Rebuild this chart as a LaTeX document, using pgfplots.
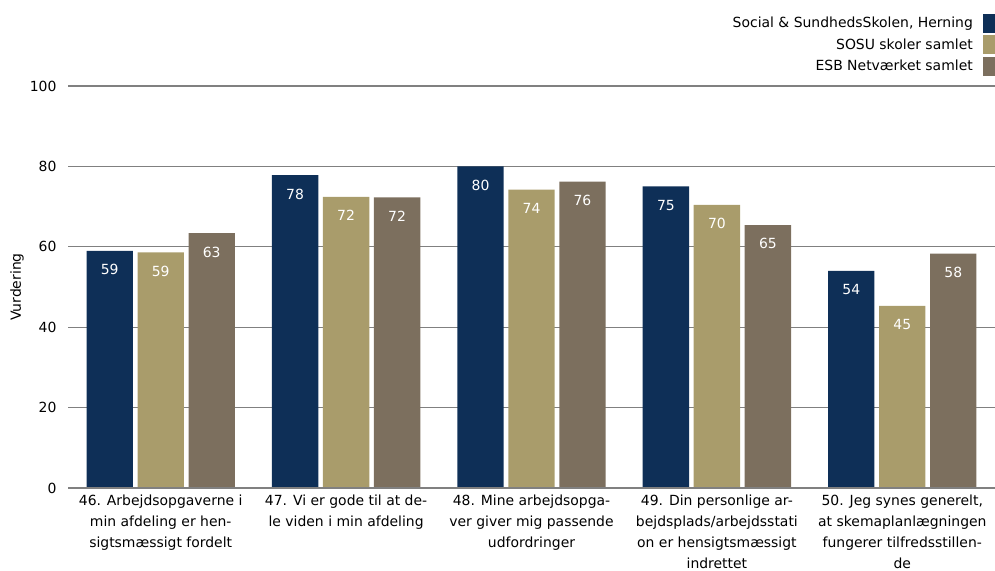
\documentclass[border=0pt]{standalone}
\usepackage{pgfplots}
\pgfplotsset{compat=1.18}
\usepackage{fontspec}
\setmainfont{DejaVu Sans}
\usetikzlibrary{calc}
\definecolor{cnavy}{HTML}{0E2F57}
\definecolor{ctan}{HTML}{A99C6B}
\definecolor{cbrown}{HTML}{7C6F5E}
\definecolor{cgrid}{HTML}{808080}
\begin{document}
\begin{tikzpicture}
\begin{axis}[
  scale only axis, width=927bp, height=402bp,
  ymin=0, ymax=100, xmin=-0.5, xmax=4.5,
  ytick={0,20,40,60,80,100},
  ymajorgrids, grid style={cgrid, line width=1.1bp},
  axis line style={draw=none},
  major tick length=0pt,
  xtick={0,1,2,3,4},
  xticklabels={
    {46. Arbejdsopgaverne i\\min afdeling er hen-\\sigtsmæssigt fordelt},
    {47. Vi er gode til at de-\\le viden i min afdeling},
    {48. Mine arbejdsopga-\\ver giver mig passende\\udfordringer},
    {49. Din personlige ar-\\bejdsplads/arbejdsstati\\on er hensigtsmæssigt\\indrettet},
    {50. Jeg synes generelt,\\at skemaplanlægningen\\fungerer tilfredsstillen-\\de}},
  xticklabel style={align=center, font=\fontsize{14}{21}\selectfont, anchor=north, yshift=-3.5bp},
  yticklabel style={font=\fontsize{14}{16}\selectfont, anchor=east, xshift=-8bp},
  ylabel={Vurdering},
  every axis y label/.style={at={(rel axis cs:0,0.5)}, xshift=-51bp, rotate=90, anchor=center, font=\fontsize{14}{16}\selectfont},
  /pgf/number format/assume math mode=true,
  ybar, bar width=0.25,
  nodes near coords,
  point meta=y,
  nodes near coords style={text=white, anchor=north, yshift=-10bp, font=\fontsize{14}{16}\selectfont, /pgf/number format/.cd, fixed, precision=0, assume math mode=true},
  legend style={at={(1,1)}, anchor=south east, yshift=10bp, xshift=8bp, draw=none, fill=none, inner sep=0pt, row sep=2.5bp, legend plot pos=right, cells={anchor=east}, font=\fontsize{14}{16}\selectfont, legend cell align=right},
  legend image code/.code={\path (0bp,0bp); \fill[#1] (8bp,-9.5bp) rectangle (28bp,9.5bp);},
]
\addplot[fill=cnavy, draw=none, bar shift=-0.275] coordinates {(0,59.0) (1,77.8) (2,80.0) (3,75.0) (4,54.0)};
\addplot[fill=ctan, draw=none, bar shift=0] coordinates {(0,58.6) (1,72.4) (2,74.2) (3,70.4) (4,45.3)};
\addplot[fill=cbrown, draw=none, bar shift=0.275] coordinates {(0,63.4) (1,72.3) (2,76.2) (3,65.4) (4,58.3)};
\draw[cgrid, line width=1.1bp] (rel axis cs:0,0) -- (rel axis cs:1,0);
\legend{{Social \& SundhedsSkolen, Herning}, SOSU skoler samlet, ESB Netværket samlet}
\end{axis}
\pgfresetboundingbox
\path[use as bounding box] ($(current axis.south west)+(-68bp,-83bp)$) rectangle ($(current axis.north east)+(0,86bp)$);
\end{tikzpicture}
\end{document}
